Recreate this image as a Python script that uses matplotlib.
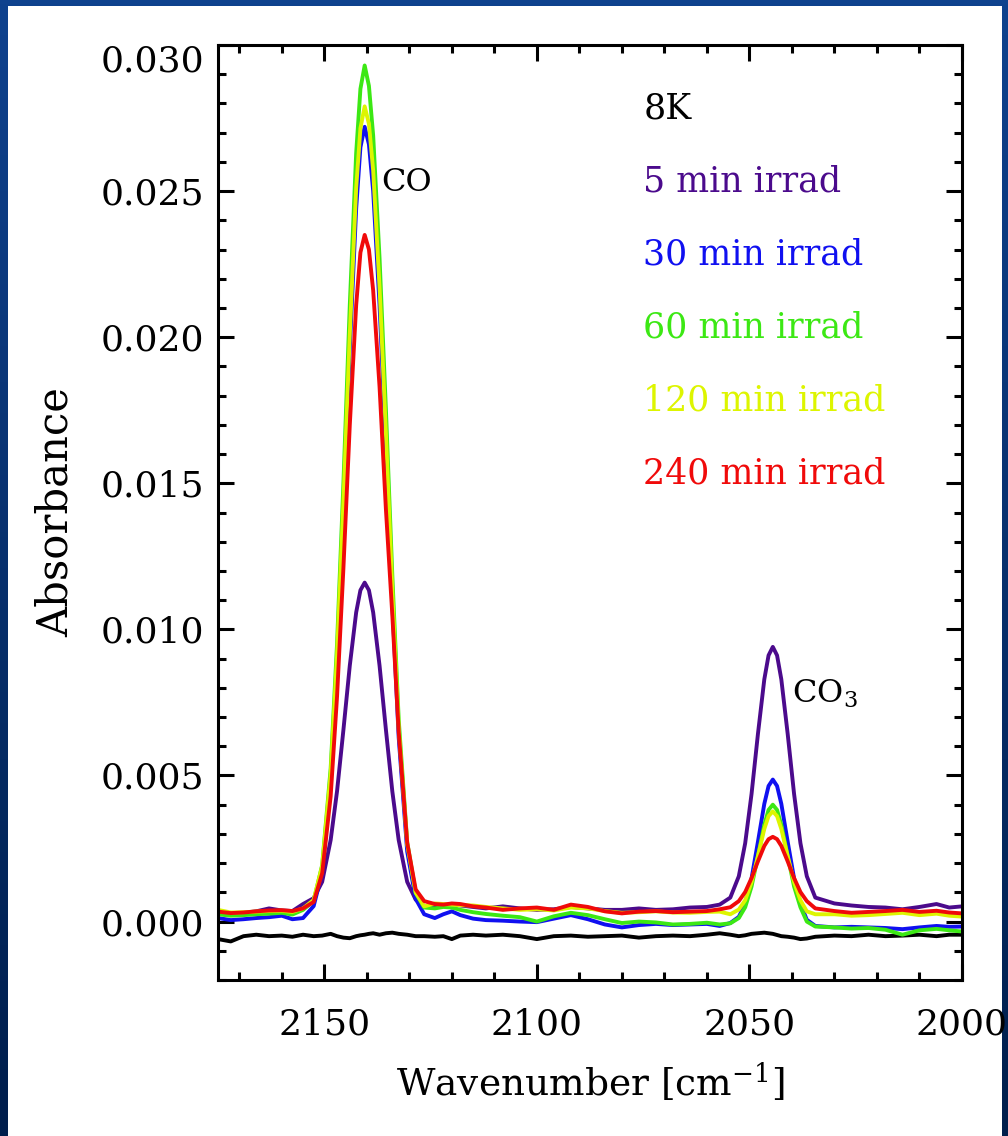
import numpy as np
import matplotlib
matplotlib.use("Agg")
import matplotlib.pyplot as plt
from matplotlib.patches import Rectangle
from matplotlib.ticker import MultipleLocator, FixedLocator

plt.rcParams['font.family'] = ['DejaVu Serif']
plt.rcParams['mathtext.fontset'] = 'dejavuserif'

wavenumber = [2175, 2172, 2169, 2166, 2163, 2160, 2157.5, 2155,
              2152.5, 2150.5, 2148.5, 2147, 2145.5, 2144, 2142.5, 2141.5, 2140.5,
              2139.5, 2138.5, 2137, 2135.5, 2134, 2132.5, 2130.5, 2128.5, 2126.5,
              2124, 2122, 2120, 2118, 2115, 2112, 2108, 2104, 2100, 2096,
              2092, 2088, 2084, 2080, 2076, 2072, 2068, 2064, 2060, 2057,
              2054.5, 2052.5, 2051, 2049.5, 2048, 2046.5, 2045.5, 2044.5,
              2043.5, 2042.5, 2041, 2039.5, 2038, 2036.5, 2034.5,
              2030, 2026, 2022, 2018, 2014, 2010, 2006, 2003, 2000]

abs_8k = [-0.0006, -0.00068, -0.0005, -0.00045, -0.0005, -0.00048, -0.00052, -0.00045,
          -0.0005, -0.00048, -0.00042, -0.0005, -0.00055, -0.00057, -0.0005, -0.00047, -0.00045,
          -0.00042, -0.0004, -0.00045, -0.0004, -0.00038, -0.00042, -0.00045, -0.0005, -0.0005,
          -0.00052, -0.0005, -0.0006, -0.00048, -0.00045, -0.00048, -0.00045, -0.0005, -0.0006, -0.0005,
          -0.00048, -0.00052, -0.0005, -0.00048, -0.00055, -0.0005, -0.00048, -0.0005, -0.00045, -0.0004,
          -0.00045, -0.0005, -0.00047, -0.00042, -0.0004, -0.00038, -0.0004, -0.00042,
          -0.00046, -0.0005, -0.00052, -0.00055, -0.0006, -0.00058, -0.00052,
          -0.00048, -0.0005, -0.00045, -0.0005, -0.00048, -0.00045, -0.0005, -0.00045, -0.00045]

abs_5min = [0.00032, 0.00028, 0.0003, 0.00035, 0.00045, 0.00038, 0.00036, 0.0006,
            0.0008, 0.00136, 0.00279, 0.00446, 0.00656, 0.00876, 0.01058, 0.01134, 0.0116,
            0.01134, 0.01058, 0.00876, 0.00656, 0.00446, 0.00279, 0.00136, 0.00075, 0.0005,
            0.0005, 0.00055, 0.0006, 0.00055, 0.0005, 0.00045, 0.00052, 0.00045, 0.0004, 0.00042,
            0.0005, 0.00045, 0.0004, 0.0004, 0.00045, 0.0004, 0.00042, 0.00048, 0.0005, 0.00058,
            0.00082, 0.00155, 0.00268, 0.00437, 0.00642, 0.00829, 0.00911, 0.0094,
            0.00911, 0.00829, 0.00642, 0.00437, 0.00268, 0.00155, 0.00082,
            0.00062, 0.00055, 0.0005, 0.00048, 0.00042, 0.0005, 0.0006, 0.00048, 0.00052]

abs_30min = [0.00012, 0.00005, 0.00008, 0.00012, 0.00015, 0.0002, 0.00008, 0.00012,
             0.00053, 0.00167, 0.00476, 0.00874, 0.0139, 0.0196, 0.0244, 0.0265, 0.0272,
             0.0266, 0.0250, 0.0211, 0.0162, 0.0109, 0.0063, 0.0024, 0.00078, 0.00025,
             0.00012, 0.00025, 0.00035, 0.00022, 0.0001, 0.00005, 0.00003, 0.0, -0.00002, 0.0001,
             0.00022, 0.00008, -0.0001, -0.0002, -0.00012, -0.00008, -0.00012, -0.0001, -0.00008, -0.00015,
             -0.00005, 0.00016, 0.00061, 0.00148, 0.00273, 0.00403, 0.00464, 0.00486,
             0.00464, 0.00403, 0.00273, 0.00148, 0.00061, 0.00006, -0.00015,
             -0.0002, -0.00018, -0.0002, -0.00022, -0.00026, -0.0002, -0.00015, -0.00018, -0.00017]

abs_60min = [0.00025, 0.0002, 0.00022, 0.00025, 0.00027, 0.0003, 0.00024, 0.0004,
             0.00071, 0.00193, 0.00524, 0.0095, 0.0150, 0.0211, 0.0263, 0.0285, 0.0293,
             0.0286, 0.0269, 0.0227, 0.0175, 0.01185, 0.00692, 0.00272, 0.00098, 0.00048,
             0.00045, 0.0005, 0.00048, 0.0004, 0.00032, 0.00026, 0.0002, 0.00015, 0.0, 0.00018,
             0.0003, 0.00022, 0.00008, -0.00005, 0.0, -0.00003, -0.0001, -0.00008, -0.00004, -0.0001,
             -0.00006, 0.00012, 0.00049, 0.0012, 0.00224, 0.00331, 0.00382, 0.0040,
             0.00382, 0.00331, 0.00224, 0.0012, 0.00049, 0.0, -0.00017,
             -0.0002, -0.00024, -0.00022, -0.00028, -0.00045, -0.0003, -0.00025, -0.0003, -0.00034]

abs_120min = [0.0004, 0.00031, 0.00032, 0.00034, 0.00036, 0.00037, 0.00033, 0.00045,
              0.00074, 0.0019, 0.00505, 0.0091, 0.01435, 0.0201, 0.0251, 0.02715, 0.0279,
              0.0273, 0.0257, 0.0217, 0.0167, 0.0113, 0.00665, 0.00265, 0.00099, 0.00052,
              0.00062, 0.0006, 0.00058, 0.00056, 0.00055, 0.0005, 0.00045, 0.0004, 0.00042, 0.00038,
              0.00048, 0.00045, 0.00036, 0.0003, 0.00032, 0.00035, 0.00031, 0.0003, 0.00033, 0.00034,
              0.00025, 0.00041, 0.00073, 0.00135, 0.00224, 0.00317, 0.00361, 0.00377,
              0.00361, 0.00317, 0.00224, 0.00135, 0.00073, 0.00035, 0.00025,
              0.00025, 0.0002, 0.00022, 0.00026, 0.0003, 0.00022, 0.00027, 0.0002, 0.00017]

abs_240min = [0.00034, 0.00029, 0.00031, 0.00035, 0.00038, 0.00039, 0.00036, 0.00045,
              0.00067, 0.00165, 0.00429, 0.0077, 0.0121, 0.0170, 0.0211, 0.0229, 0.0235,
              0.0230, 0.0216, 0.0183, 0.0141, 0.0105, 0.0065, 0.0027, 0.0011, 0.0007,
              0.0006, 0.00058, 0.00062, 0.0006, 0.00052, 0.00048, 0.0004, 0.00045, 0.00048, 0.0004,
              0.00058, 0.0005, 0.00035, 0.00028, 0.00034, 0.00036, 0.00032, 0.00034, 0.00036, 0.00042,
              0.00049, 0.0007, 0.00101, 0.00149, 0.00206, 0.00259, 0.00282, 0.0029,
              0.00282, 0.00259, 0.00206, 0.00149, 0.00101, 0.0007, 0.00045,
              0.00036, 0.0003, 0.00033, 0.00036, 0.0004, 0.00033, 0.00037, 0.00031, 0.00028]

series_labels = ["8K", "5 min irrad", "30 min irrad", "60 min irrad", "120 min irrad", "240 min irrad"]
series_colors = ["#000000", "#4B0A8C", "#1010F0", "#3CE814", "#DDF500", "#F00A0A"]
series_values = [abs_8k, abs_5min, abs_30min, abs_60min, abs_120min, abs_240min]
label_y = [0.0275, 0.025, 0.0225, 0.020, 0.0175, 0.015]

x_ticks = [2150, 2100, 2050, 2000]
y_ticks = [0.000, 0.005, 0.010, 0.015, 0.020, 0.025, 0.030]
y_tick_labels = ["0.000", "0.005", "0.010", "0.015", "0.020", "0.025", "0.030"]

W, H = 1008, 1136
fig = plt.figure(figsize=(W / 100, H / 100), dpi=100)

# background frame gradient
bg = fig.add_axes([0, 0, 1, 1], zorder=-10)
top = np.array([15, 66, 142]) / 255.0
bot = np.array([0, 30, 76]) / 255.0
t = np.linspace(0, 1, 256)[:, None, None]
grad = top[None, None, :] * (1 - t) + bot[None, None, :] * t
grad = np.repeat(grad, 2, axis=1)
bg.imshow(grad, aspect='auto', extent=[0, 1, 0, 1], origin='upper')
bg.add_patch(Rectangle((8 / W, 0), (1002 - 8) / W, (H - 6) / H, facecolor='white', edgecolor='none'))
bg.set_xlim(0, 1)
bg.set_ylim(0, 1)
bg.axis('off')

ax = fig.add_axes([218 / W, 1 - 980 / H, (962 - 218) / W, (980 - 45) / H])
ax.set_facecolor('none')

for vals, col in zip(series_values, series_colors):
    ax.plot(wavenumber, vals, color=col, lw=2.8, solid_joinstyle='round')

ax.set_xlim(2175, 2000)
ax.set_ylim(-0.002, 0.030)

ax.xaxis.set_major_locator(FixedLocator(x_ticks))
ax.xaxis.set_minor_locator(MultipleLocator(10))
ax.yaxis.set_major_locator(FixedLocator(y_ticks))
ax.yaxis.set_minor_locator(MultipleLocator(0.001))
ax.set_yticklabels(y_tick_labels)
ax.set_xticklabels([str(v) for v in x_ticks])

for s in ax.spines.values():
    s.set_linewidth(2.2)
ax.tick_params(which='both', direction='in', top=True, right=True, width=2.2, labelsize=26)
ax.tick_params(which='major', length=11.5)
ax.tick_params(which='minor', length=5.8)
ax.tick_params(axis='x', pad=20)
ax.tick_params(axis='y', pad=10)

ylabs = ax.get_yticklabels()
ylabs[-1].set_va('top')

ax.set_xlabel(r"Wavenumber [cm$^{-1}$]", fontsize=27)
ax.xaxis.set_label_coords(0.5, -0.086)
ax.set_ylabel("Absorbance", fontsize=30)
ax.yaxis.set_label_coords(-0.19, 0.5)

for lab, col, yy in zip(series_labels, series_colors, label_y):
    ax.text(2075, yy, lab, color=col, fontsize=25, ha='left', va='baseline')

ax.text(2136.5, 0.025, "CO", fontsize=23, ha='left', va='baseline')
ax.text(2040, 0.0075, r"CO$_3$", fontsize=23, ha='left', va='baseline')

fig.savefig("out.png", dpi=100)
